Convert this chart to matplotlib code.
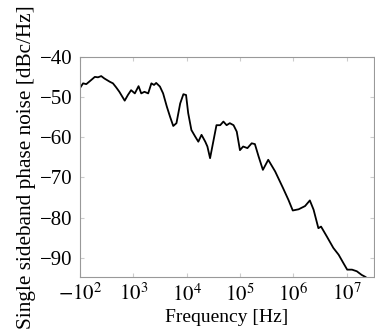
import numpy as np
import matplotlib
matplotlib.use('Agg')
import matplotlib.pyplot as plt

plt.rcParams['font.family'] = ['Liberation Serif', 'DejaVu Serif']
plt.rcParams['mathtext.fontset'] = 'stix'

# log10 of frequency and phase noise (dBc/Hz)
log_f = [2.0, 2.06, 2.12, 2.21, 2.28, 2.34, 2.40, 2.46, 2.56, 2.62, 2.68, 2.74,
         2.84, 2.90, 2.96, 3.03, 3.10, 3.15, 3.21, 3.28, 3.34, 3.39, 3.43,
         3.50, 3.56, 3.63, 3.69, 3.75, 3.81, 3.88, 3.94, 3.99, 4.03, 4.09,
         4.16, 4.22, 4.28, 4.35, 4.39, 4.44, 4.50, 4.56, 4.63, 4.69, 4.75,
         4.81, 4.88, 4.94, 5.0, 5.06, 5.14, 5.22, 5.28, 5.35, 5.43, 5.53,
         5.66, 5.81, 5.91, 5.99, 6.10, 6.22, 6.31, 6.38, 6.47, 6.52, 6.63,
         6.75, 6.85, 6.94, 7.01, 7.10, 7.19, 7.28, 7.35, 7.40]
noise = [-47.8, -46.6, -46.8, -45.8, -45.0, -45.1, -44.8, -45.4, -46.2, -46.6,
         -47.6, -48.7, -50.9, -49.5, -48.3, -49.1, -47.3, -49.1, -48.7, -49.1,
         -46.6, -47.0, -46.5, -47.4, -49.1, -52.4, -54.9, -57.2, -56.5, -51.6,
         -49.3, -49.5, -54.0, -58.2, -59.8, -61.1, -59.4, -61.1, -62.3, -65.2,
         -61.1, -57.0, -57.0, -56.1, -57.0, -56.5, -57.0, -58.6, -63.2, -62.3,
         -62.7, -61.5, -61.7, -64.8, -68.1, -65.6, -68.5, -72.7, -75.6, -78.2,
         -77.9, -77.1, -75.7, -78.0, -82.6, -82.2, -84.7, -87.5, -89.2, -91.3,
         -92.9, -92.9, -93.3, -94.2, -94.7, -95.2]

freq = 10 ** np.array(log_f)

fig = plt.figure(figsize=(3.75, 3.34), dpi=100)
ax = fig.add_axes([0.213, 0.171, 0.784, 0.659])
ax.plot(freq, noise, color='black', lw=1.3)
ax.set_xscale('log')
ax.set_xlim(1e2, 10 ** 7.51)
ax.set_ylim(-94.7, -40)

ax.set_xticks([1e2, 1e3, 1e4, 1e5, 1e6, 1e7])
ax.set_xticklabels([r'$-10^{2}$', r'$10^{3}$', r'$10^{4}$', r'$10^{5}$',
                    r'$10^{6}$', r'$10^{7}$'])
ax.xaxis.set_minor_locator(matplotlib.ticker.NullLocator())
ax.set_yticks([-40, -50, -60, -70, -80, -90])
ax.set_yticklabels(['\u221240', '\u221250', '\u221260', '\u221270', '\u221280', '\u221290'])
ax.tick_params(direction='in', length=3, color='#cccccc', labelsize=15,
               top=True, right=True, pad=5)
for s in ax.spines.values():
    s.set_color('#999999')
    s.set_linewidth(0.8)

ax.set_xlabel('Frequency [Hz]', fontsize=14, labelpad=2)
ax.set_ylabel('Single sideband phase noise [dBc/Hz]', fontsize=15.3, labelpad=3)

plt.savefig('out.png', dpi=100)
